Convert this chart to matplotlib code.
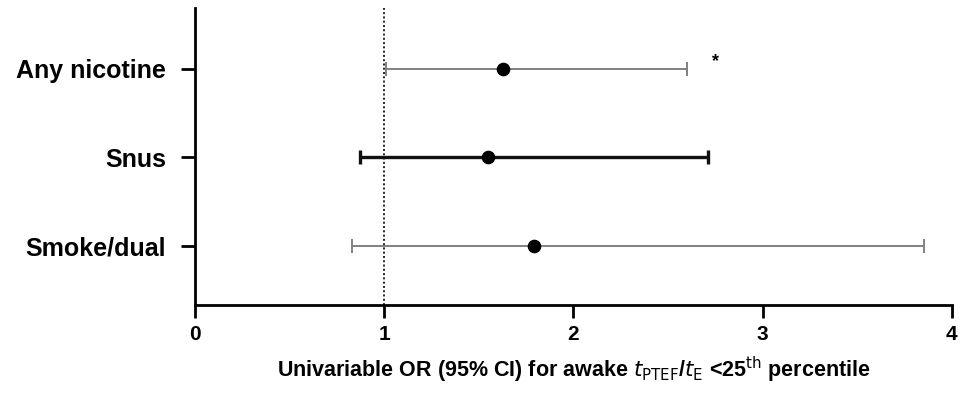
import matplotlib
matplotlib.use("Agg")
import matplotlib.pyplot as plt

groups = ["Smoke/dual", "Snus", "Any nicotine"]
odds_ratio = [1.79, 1.55, 1.63]
ci_low = [0.83, 0.87, 1.01]
ci_high = [3.85, 2.71, 2.60]
bar_colors = ["#808080", "#111111", "#808080"]
bar_widths = [1.4, 2.4, 1.4]

plt.rcParams['font.family'] = ['Liberation Sans', 'DejaVu Sans']

fig = plt.figure(figsize=(9.63, 3.94), dpi=100)
ax = fig.add_axes([0.2025, 0.226, 0.786, 0.754])

ax.axvline(1, color="#222222", linestyle=(0, (1, 1.2)), linewidth=1.4, zorder=1)

for i in range(len(groups)):
    ax.errorbar(odds_ratio[i], i,
                xerr=[[odds_ratio[i] - ci_low[i]], [ci_high[i] - odds_ratio[i]]],
                fmt="none", ecolor=bar_colors[i], elinewidth=bar_widths[i],
                capsize=5, capthick=bar_widths[i], zorder=2)
    ax.plot(odds_ratio[i], i, "o", color="black", markersize=8.8, zorder=3)

ax.text(2.75, 2.08, "*", ha="center", va="center", fontsize=13, fontweight="bold")

ax.set_xlim(0, 4)
ax.set_ylim(-0.67, 2.69)
ax.set_xticks([0, 1, 2, 3, 4])
ax.set_yticks(range(len(groups)))
ax.set_yticklabels(groups, fontsize=18, fontweight="bold")
for lab in ax.get_xticklabels():
    lab.set_fontsize(15)
    lab.set_fontweight("bold")

ax.spines["top"].set_visible(False)
ax.spines["right"].set_visible(False)
ax.spines["left"].set_linewidth(2)
ax.spines["bottom"].set_linewidth(2)
ax.tick_params(axis="y", length=10, width=2, pad=11)
ax.tick_params(axis="x", length=9.5, width=2, pad=5)

ax.set_xlabel(r"Univariable OR (95% CI) for awake $\mathit{t}_{\mathrm{PTEF}}$/$\mathit{t}_{\mathrm{E}}$ <25$^{\mathrm{th}}$ percentile",
              fontsize=15.5, fontweight="bold", labelpad=8)

fig.savefig("out.png", dpi=100)
